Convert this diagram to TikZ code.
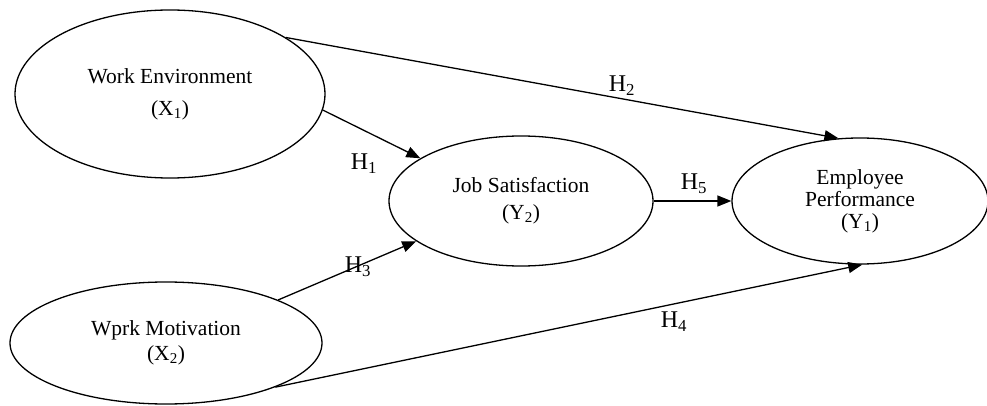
\documentclass[tikz,border=0pt]{standalone}
\usepackage{fontspec}
\setmainfont{Liberation Serif}
\usetikzlibrary{arrows.meta,shapes.geometric}
\begin{document}
\begin{tikzpicture}[x=1pt,y=-1pt,
  var/.style={draw, ellipse, line width=1.3pt, inner sep=0pt, align=center,
    font=\fontsize{21.5}{25}\selectfont},
  path/.style={line width=1.3pt, -{Triangle[length=14pt,width=11pt]}},
  hlab/.style={font=\fontsize{24}{26}\selectfont, inner sep=1pt}]
\useasboundingbox (0,0) rectangle (987,406);
\node[var, minimum width=310pt, minimum height=168pt] (we) at (170,94)
  {Work Environment\\[7pt](X\textsubscript{1})};
\node[var, minimum width=312pt, minimum height=122pt] (wm) at (166,343)
  {\rule{0pt}{12pt}Wprk Motivation\\(X\textsubscript{2})};
\node[var, minimum width=264pt, minimum height=130pt] (js) at (521,201)
  {Job Satisfaction\\[2pt](Y\textsubscript{2})};
\node[var, minimum width=256pt, minimum height=126pt,
  font=\fontsize{21.5}{22}\selectfont] (ep) at (860,201)
  {Employee\\Performance\\(Y\textsubscript{1})};
\draw[path] (we.26.8) -- (ep.109.5);
\draw[path] (we.-6) -- (js.157.8);
\draw[path] (wm.21) -- (js.-159);
\draw[path] (wm.-22) -- (ep.-88);
\draw[path] (js.east) -- (ep.west);
\node[hlab] (h1) at (364,164) {H\textsubscript{1}};
\node[hlab] (h2) at (622,86) {H\textsubscript{2}};
\node[hlab] (h3) at (358,267) {H\textsubscript{3}};
\node[hlab] (h4) at (674,322) {H\textsubscript{4}};
\node[hlab] (h5) at (694,184) {H\textsubscript{5}};
\end{tikzpicture}
\end{document}
